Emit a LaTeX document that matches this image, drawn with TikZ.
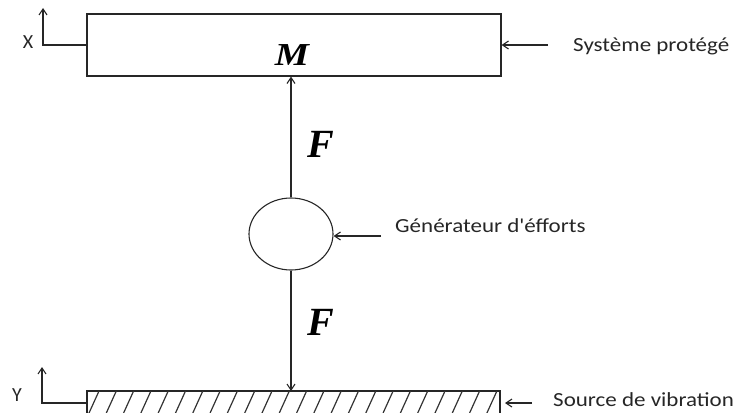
\documentclass[tikz,border=0pt]{standalone}
\usepackage{fontspec}
\setmainfont{Carlito}
\newfontfamily\serifbi{Liberation Serif}
\usetikzlibrary{arrows.meta,shapes.geometric}
\begin{document}
\begin{tikzpicture}[x=1pt,y=-1pt,
  thinline/.style={line width=1.1pt,black!85},
  arr/.style={thinline,-{Straight Barb[length=6pt,width=8pt]}},
  lbl/.style={font=\fontsize{20}{24}\selectfont,anchor=west,inner sep=0pt,xscale=1.15,black!85},
  axlbl/.style={font=\fontsize{20}{24}\selectfont,inner sep=0pt,black!85},
  forcelbl/.style={font=\serifbi\bfseries\itshape\fontsize{40}{44}\selectfont,inner sep=0pt}]
\useasboundingbox (0,0) rectangle (735,412);
% top mass
\node[draw,thinline,minimum width=414pt,minimum height=62pt,inner sep=0pt] (mass) at (294,45) {};
\node[forcelbl,font=\serifbi\bfseries\itshape\fontsize{32}{36}\selectfont,xscale=1.2] (M) at (292,55) {M};
% X axis
\coordinate (xc) at (43,45);
\coordinate (xt) at (43,8);
\draw[arr] (mass.west |- xc) -- (xc) -- (xt);
\node[axlbl] (X) at (28,42) {X};
% system label
\node[lbl] (sys) at (573,46) {Système protégé};
\coordinate (sysa) at (548,45);
\draw[arr] (sysa) -- (mass.east |- sysa);
% generator
\node[draw,thinline,ellipse,minimum width=84pt,minimum height=72pt,inner sep=0pt] (gen) at (291,234) {};
% base
\coordinate (bnw) at (87,391);
\coordinate (bne) at (500,391);
\coordinate (bse) at (500,413);
\coordinate (bsw) at (87,413);
\draw[thinline] (bsw) -- (bnw) -- (bne) -- (bse);
\begin{scope}
\clip (bnw) rectangle (bse);
\foreach \i in {0,...,25}{
  \draw[line width=1.2pt,black!80] (89+\i*17.3,413) -- ++(10,-22);
}
\end{scope}
% forces
\draw[arr] (gen.north) -- (mass.south -| gen.north);
\node[forcelbl] (F1) at (321,144) {F};
\draw[arr] (gen.south) -- (gen.south |- bnw);
\node[forcelbl] (F2) at (321,322) {F};
% generator label
\node[lbl] (genl) at (395,226) {Générateur d\textquotesingle éfforts};
\coordinate (gena) at (381,236);
\draw[arr] (gena) -- (gen.east |- gena);
% Y axis
\coordinate (yc) at (42,403);
\coordinate (yt) at (42,367);
\draw[arr] (bnw |- yc) -- (yc) -- (yt);
\node[axlbl] (Y) at (17,395) {Y};
% source label
\node[lbl] (src) at (553,400) {Source de vibration};
\coordinate (srca) at (532,403);
\draw[arr] (srca) -- (505,403);
\end{tikzpicture}
\end{document}
